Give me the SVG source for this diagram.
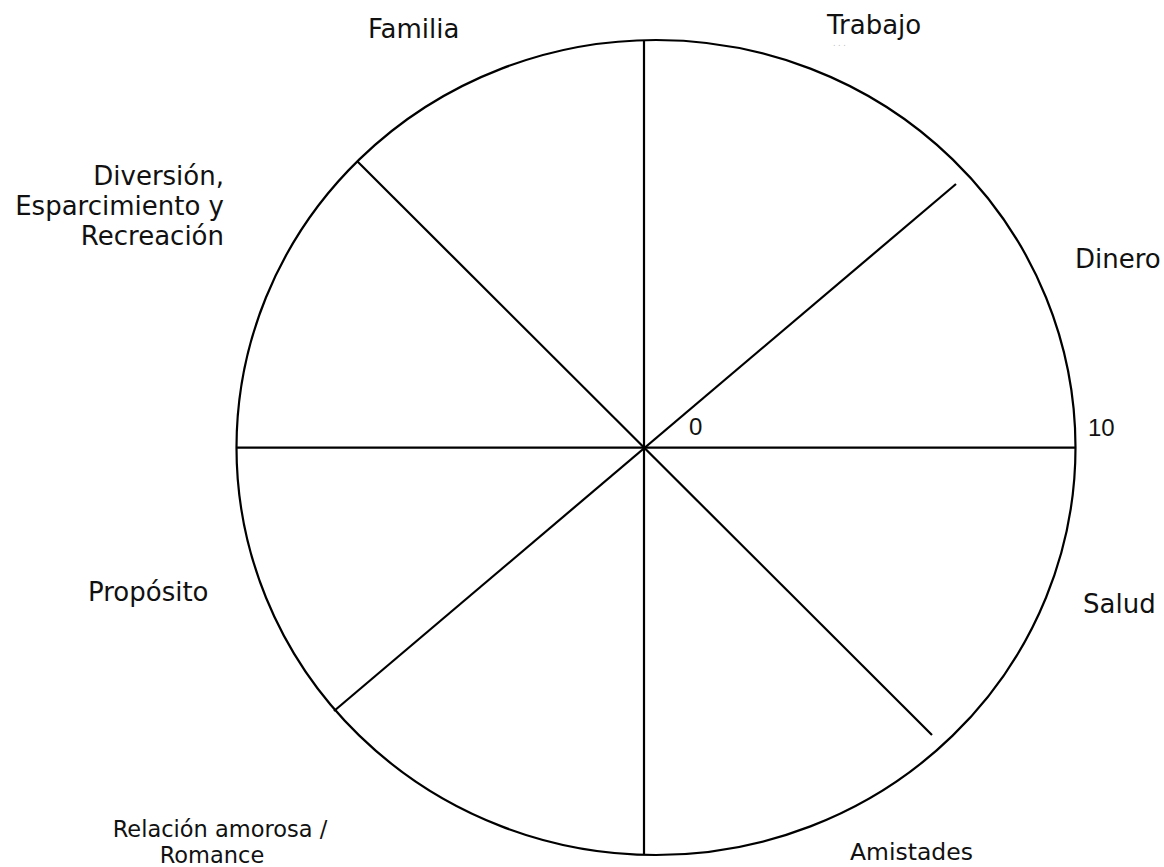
<svg xmlns="http://www.w3.org/2000/svg" width="1164" height="867" viewBox="0 0 1164 867">
<style>
.lbl{font-family:"DejaVu Sans",Verdana,sans-serif;font-size:26px;fill:#111}
.num{font-family:"Liberation Sans",Arial,sans-serif;font-size:24px;fill:#111}
.ln{stroke:#000;stroke-width:2.2;fill:none}
</style>
<rect width="1164" height="867" fill="#fff"/>
<g id="wheel">
<ellipse class="ln" cx="656" cy="447.5" rx="419.5" ry="407.5"/>
</g>
<g id="connectors">
<line class="ln" x1="237" y1="447.7" x2="1076" y2="447.7"/>
<line class="ln" x1="644" y1="40" x2="644" y2="855"/>
<line class="ln" x1="357" y1="161" x2="932" y2="735"/>
<line class="ln" x1="956" y1="184" x2="334" y2="711"/>
</g>
<g id="familia"><text class="lbl" x="368" y="38">Familia</text></g>
<g id="trabajo"><text class="lbl" x="827" y="34">Trabajo</text>
<text x="833" y="46" font-family="DejaVu Sans,sans-serif" font-size="8" fill="#bbb">. . .</text></g>
<g id="diversion">
<text class="lbl" text-anchor="end"><tspan x="224" y="185">Diversión,</tspan><tspan x="224" y="215">Esparcimiento y</tspan><tspan x="224" y="245">Recreación</tspan></text>
</g>
<g id="dinero"><text class="lbl" x="1075" y="268">Dinero</text></g>
<g id="zero"><text class="num" x="689" y="435">0</text></g>
<g id="ten"><text class="num" x="1088" y="436">10</text></g>
<g id="proposito"><text class="lbl" x="88" y="601">Propósito</text></g>
<g id="salud"><text class="lbl" x="1083" y="613">Salud</text></g>
<g id="relacion">
<text class="lbl" style="font-size:22.5px" text-anchor="middle"><tspan x="220" y="837">Relación amorosa /</tspan><tspan x="212" y="863">Romance</tspan></text>
</g>
<g id="amistades"><text class="lbl" style="font-size:23.5px" x="850" y="860">Amistades</text></g>
</svg>
